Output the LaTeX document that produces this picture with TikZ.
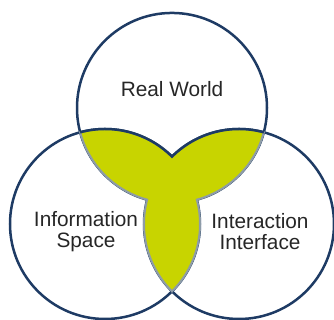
\documentclass[tikz,border=0pt]{standalone}
\usepackage{fontspec}
\setmainfont{Liberation Sans}
\usepackage{xcolor}
\definecolor{vennblue}{HTML}{1E3B64}
\definecolor{venngreen}{HTML}{C8D400}
\definecolor{venngray}{HTML}{8E9CA8}

\begin{document}
\begin{tikzpicture}[x=1pt, y=1pt,
    venn/.style={draw=vennblue, line width=2.5pt, circle, inner sep=0pt, minimum size=190pt},
    vennlabel/.style={align=center, font=\fontsize{20.8}{21}\selectfont, text=black!85}]
    \useasboundingbox (0,0) rectangle (334,320);
    \node[venn] (world) at (172,212.05) {};
    \node[venn] (info) at (105,96) {};
    \node[venn] (inter) at (239,96) {};
    \path[fill=venngreen, draw=venngray, line width=2pt]
      ([shift={(105.15:95pt)}]info.center)
      arc[start angle=105.15, end angle=45.15, radius=95pt]
      arc[start angle=134.85, end angle=74.85, radius=95pt]
      arc[start angle=345.15, end angle=285.15, radius=95pt]
      arc[start angle=14.85, end angle=-45.15, radius=95pt]
      arc[start angle=225.15, end angle=165.15, radius=95pt]
      arc[start angle=254.85, end angle=194.85, radius=95pt] -- cycle;
    \draw[vennblue, line width=2.5pt] ([shift={(105.15:95pt)}]info.center)
      arc[start angle=105.15, end angle=45.15, radius=95pt]
      arc[start angle=134.85, end angle=74.85, radius=95pt];
    \node[vennlabel] (worldtext) at ([yshift=18.5pt]world.center) {Real World};
    \node[vennlabel] (infotext) at ([shift={(-19pt,-8pt)}]info.center) {Information\\Space};
    \node[vennlabel] (intertext) at ([shift={(21pt,-8pt)}]inter.center) {Interaction\\Interface};
  \end{tikzpicture}
\end{document}
